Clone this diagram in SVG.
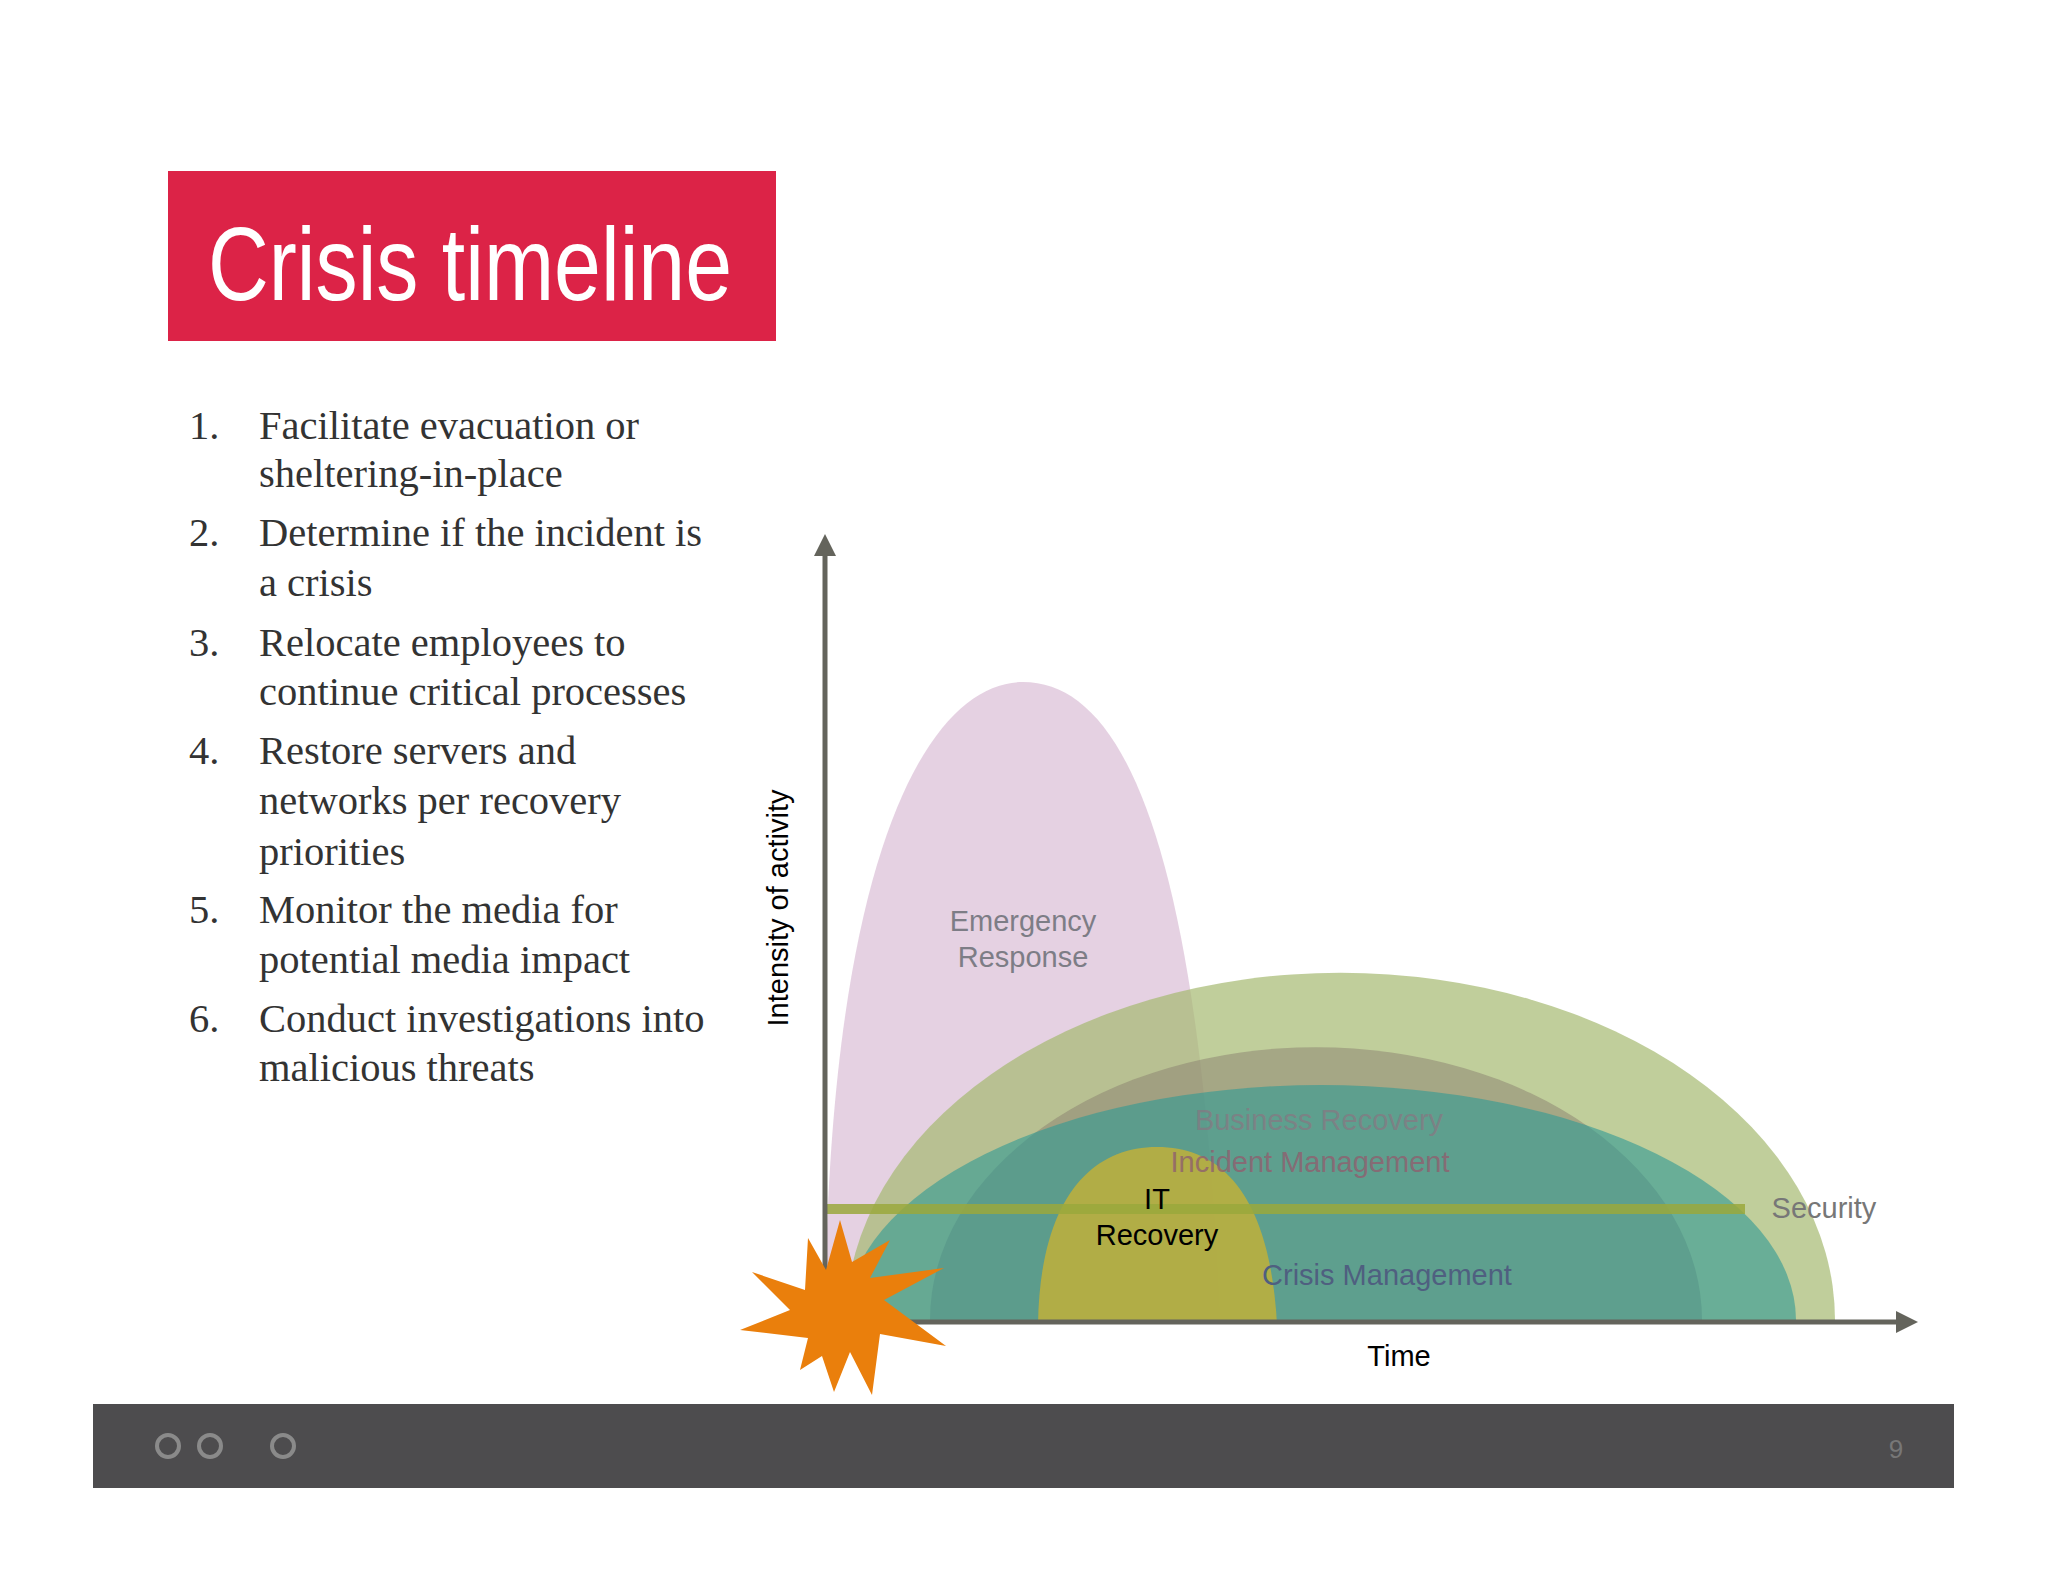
<svg xmlns="http://www.w3.org/2000/svg" width="2048" height="1582" viewBox="0 0 2048 1582">
<style>
.list{font-family:"Liberation Serif",serif;font-size:40.5px;fill:#333}
.lbl{font-family:"Liberation Sans",sans-serif;font-size:29px;text-anchor:middle}
</style>
<defs>
<marker id="ah" markerWidth="22" markerHeight="22" refX="4" refY="11" orient="auto" markerUnits="userSpaceOnUse" viewBox="0 0 22 22"><path d="M0,0 L22,11 L0,22 z" fill="#64645c"/></marker>
</defs>
<rect width="2048" height="1582" fill="#fff"/>
<g id="title"><rect x="168" y="171" width="608" height="170" fill="#dc2347"/>
<text x="208" y="300" font-family="Liberation Sans,sans-serif" font-size="104" fill="#fff" textLength="524" lengthAdjust="spacingAndGlyphs">Crisis timeline</text></g>
<g id="list" class="list">
<text x="189" y="439">1.</text><text x="259" y="439">Facilitate evacuation or</text>
<text x="259" y="487">sheltering-in-place</text>
<text x="189" y="546">2.</text><text x="259" y="546">Determine if the incident is</text>
<text x="259" y="596">a crisis</text>
<text x="189" y="656">3.</text><text x="259" y="656">Relocate employees to</text>
<text x="259" y="705">continue critical processes</text>
<text x="189" y="764">4.</text><text x="259" y="764">Restore servers and</text>
<text x="259" y="814">networks per recovery</text>
<text x="259" y="865">priorities</text>
<text x="189" y="923">5.</text><text x="259" y="923">Monitor the media for</text>
<text x="259" y="973">potential media impact</text>
<text x="189" y="1032">6.</text><text x="259" y="1032">Conduct investigations into</text>
<text x="259" y="1081">malicious threats</text>
</g>
<g id="emergency"><path d="M825 1322 C828 850 930 682 1023 682 C1125 682 1200 850 1220 1322 Z" fill="#d4b3cf" opacity="0.6"/></g>
<g id="green"><path d="M846 1320 A494 347 0 0 1 1835 1320 Z" fill="#a5b970" opacity="0.7"/></g>
<g id="brown"><path d="M930 1320 A386 273 0 0 1 1702 1320 Z" fill="#8a8070" opacity="0.5"/></g>
<g id="teal"><path d="M846 1320 A475 235 0 0 1 1796 1320 Z" fill="#2f9a94" opacity="0.6"/></g>
<g id="it"><path d="M1038 1324 C1040 1200 1090 1147 1157 1147 C1225 1147 1270 1200 1277 1324 Z" fill="#c0b03a" opacity="0.85"/></g>
<g id="security"><rect x="825" y="1204" width="920" height="10" fill="#9aa83c" opacity="0.85"/></g>
<g id="connectors">
<line x1="825" y1="1322" x2="825" y2="552" stroke="#64645c" stroke-width="5" marker-end="url(#ah)"/>
<line x1="825" y1="1322" x2="1900" y2="1322" stroke="#64645c" stroke-width="5" marker-end="url(#ah)"/>
</g>
<g id="burst"><polygon fill="#ea7f0c" points="840,1220 852,1262 890,1240 870,1278 944,1268 884,1300 946,1346 880,1334 872,1395 850,1352 834,1392 822,1356 800,1370 808,1338 740,1330 790,1310 752,1272 805,1290 808,1238 826,1270" /></g>
<g id="labels">
<text class="lbl" x="1023" y="931" fill="#7d7d86">Emergency</text>
<text class="lbl" x="1023" y="967" fill="#7d7d86">Response</text>
<text class="lbl" x="1319" y="1130" fill="#8f6f80" opacity="0.6">Business Recovery</text>
<text class="lbl" x="1310" y="1172" fill="#8f6070" opacity="0.8">Incident Management</text>
<text class="lbl" x="1387" y="1285" fill="#4f5f80">Crisis Management</text>
<text class="lbl" x="1157" y="1209" fill="#000">IT</text>
<text class="lbl" x="1157" y="1245" fill="#000">Recovery</text>
<text class="lbl" x="1824" y="1218" fill="#777">Security</text>
<text class="lbl" x="1399" y="1366" fill="#000">Time</text>
<text class="lbl" transform="translate(788,908) rotate(-90)" fill="#000">Intensity of activity</text>
</g>
<g id="footer"><rect x="93" y="1404" width="1861" height="84" fill="#4d4c4e"/>
<g fill="none" stroke="#8a8a8a" stroke-width="4"><circle cx="168" cy="1446" r="11"/><circle cx="210" cy="1446" r="11"/><circle cx="283" cy="1446" r="11"/></g>
<text x="1896" y="1458" font-family="Liberation Sans,sans-serif" font-size="26" fill="#777" text-anchor="middle">9</text></g>
</svg>
